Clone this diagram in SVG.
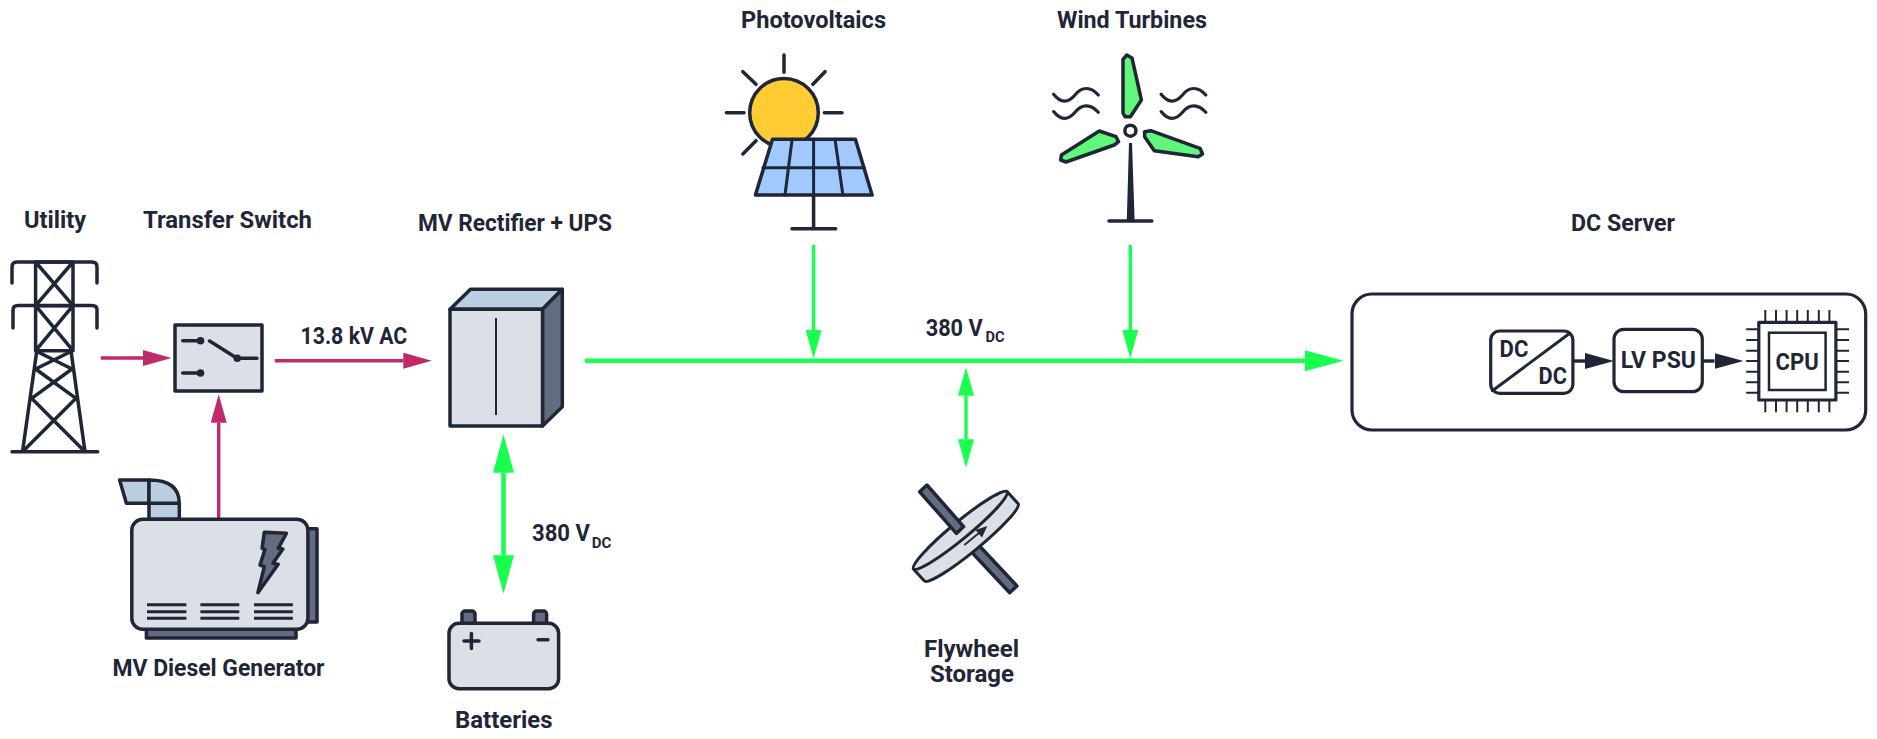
<svg xmlns="http://www.w3.org/2000/svg" width="1877" height="739" viewBox="0 0 1877 739">
<style>
text{font-family:"Roboto","Liberation Sans",sans-serif;font-weight:700;font-size:24px;fill:#1f2637}
.sub{font-size:15px}
.in{font-size:23px}
.s{fill:none;stroke:#1f2637;stroke-width:3.5;stroke-linecap:round;stroke-linejoin:round}
.t{fill:none;stroke:#1f2637;stroke-width:3;stroke-linecap:butt}
.g{fill:#dcdfe6;stroke:#1f2637;stroke-width:3.5;stroke-linejoin:round}
.d{fill:#646c80;stroke:#1f2637;stroke-width:3.5;stroke-linejoin:round}
.b{fill:#bccfe0;stroke:#1f2637;stroke-width:3.5;stroke-linejoin:round}
.blade{fill:#5ff87a;stroke:#1f2637;stroke-width:3.5;stroke-linejoin:round}
.dot{fill:#1f2637}
.pink{stroke:#bf2b6a;stroke-width:3.4;fill:none}
.green{stroke:#19ff50;stroke-width:3.4;fill:none}
.dark{stroke:#1f2637;stroke-width:3.4;fill:none}
</style>
<defs>
<marker id="hp" markerUnits="userSpaceOnUse" markerWidth="28.5" markerHeight="16" refX="0" refY="8" orient="auto"><polygon points="0,0 28.5,8 0,16" fill="#bf2b6a"/></marker>
<marker id="hg" markerUnits="userSpaceOnUse" markerWidth="28.5" markerHeight="16" refX="0" refY="8" orient="auto-start-reverse"><polygon points="0,0 28.5,8 0,16" fill="#19ff50"/></marker>
<marker id="hl" markerUnits="userSpaceOnUse" markerWidth="38.5" markerHeight="21" refX="0" refY="10.5" orient="auto-start-reverse"><polygon points="0,0 38.5,10.5 0,21" fill="#19ff50"/></marker>
<marker id="hd" markerUnits="userSpaceOnUse" markerWidth="29" markerHeight="16" refX="0" refY="8" orient="auto"><polygon points="0,0 29,8 0,16" fill="#1f2637"/></marker>
</defs>

<g id="connectors">
<line class="pink" x1="100.8" y1="358" x2="143" y2="358" marker-end="url(#hp)"/>
<line class="pink" x1="274.8" y1="360.7" x2="403.3" y2="360.7" marker-end="url(#hp)"/>
<line class="pink" x1="218.7" y1="518" x2="218.7" y2="422.7" marker-end="url(#hp)"/>
<line class="green" style="stroke-width:4.4" x1="585" y1="360.7" x2="1305" y2="360.7" marker-end="url(#hl)"/>
<line class="green" x1="813.6" y1="245" x2="813.6" y2="330" marker-end="url(#hg)"/>
<line class="green" x1="1130.3" y1="245" x2="1130.3" y2="330" marker-end="url(#hg)"/>
<line class="green" style="stroke-width:4.6" x1="503.5" y1="472.7" x2="503.5" y2="555.3" marker-start="url(#hl)" marker-end="url(#hl)"/>
<line class="green" x1="966" y1="395.7" x2="966" y2="439.3" marker-start="url(#hg)" marker-end="url(#hg)"/>
<line class="dark" x1="1572.9" y1="361" x2="1585" y2="361" marker-end="url(#hd)"/>
<line class="dark" x1="1702.3" y1="361" x2="1714.5" y2="361" marker-end="url(#hd)"/>
</g>

<g id="utility">
<text x="24" y="228" textLength="62" lengthAdjust="spacingAndGlyphs">Utility</text>
<path class="s" d="M12 283V267Q12 262 17 262H92Q97 262 97 267V283M13 328V310Q13 305.500 18 305.500H92Q97 305.500 97 310V328"/>
<path class="s" d="M35.600 262H73V350.700H35.600ZM35.600 305.700H73M35.600 262 73 305.700M73 262 35.600 305.700M35.600 305.700 73 350.700M73 305.700 35.600 350.700"/>
<path class="s" d="M36.800 350.700 22.500 451.700M71 350.700 85 451.700M12 451.700H97.700M38 352 72 369M70 352 35.600 369M35.600 369 76 398.300M72 369 31.600 398.300M31.600 398.300 85 451.700M76 398.300 22.500 451.700"/>
</g>

<g id="transfer-switch">
<text x="143" y="227.700" textLength="169" lengthAdjust="spacingAndGlyphs">Transfer Switch</text>
<rect class="g" x="175" y="325" width="87" height="66"/>
<path class="s" d="M182.700 340.700H200.500M182.700 373H200.500M209.600 341 237 358.300H257"/>
<circle class="dot" cx="200.500" cy="340.700" r="3.800"/>
<circle class="dot" cx="200.500" cy="373" r="3.800"/>
<circle class="dot" cx="237.300" cy="358.300" r="3.800"/>
</g>

<g id="label-13-8">
<text x="300.500" y="344.300" textLength="106.800" lengthAdjust="spacingAndGlyphs">13.8 kV AC</text>
</g>

<g id="rectifier-ups">
<text x="418" y="230.700" textLength="194" lengthAdjust="spacingAndGlyphs">MV Rectifier + UPS</text>
<polygon class="b" points="450,309.300 470.500,289.300 562.300,289.300 542.500,309.300"/>
<polygon class="d" points="542.500,309.300 562.300,289.300 562.300,406.700 542.500,426"/>
<rect class="g" x="450" y="309.300" width="92.500" height="116.700"/>
<line x1="496" y1="318" x2="496" y2="415" stroke="#1f2637" stroke-width="2"/>
</g>

<g id="diesel-generator">
<path class="b" d="M119.600 480H149V503.300H126.400Z"/>
<path class="b" d="M149 480Q179.300 480 179.300 503.300H149ZM149 503.300H179.300V519.300H149Z"/>
<rect class="d" x="300" y="528.700" width="17" height="93.300"/>
<rect class="d" x="146.400" y="622" width="149.600" height="16"/>
<rect class="g" x="131.800" y="519.300" width="176.100" height="110" rx="11"/>
<polygon class="d" points="264.300,532.300 286.400,533.300 278.200,548.300 282.900,549 272.900,563.300 278.200,564.300 257.900,592.700 264.300,566.700 260,565 265,549.300 262.100,548.300"/>
<path class="t" d="M147 604.700H186.400M147 611.700H186.400M147 618.300H186.400M200.400 604.700H239.300M200.400 611.700H239.300M200.400 618.300H239.300M254 604.700H292.900M254 611.700H292.900M254 618.300H292.900"/>
<text x="112.500" y="675.700" textLength="212" lengthAdjust="spacingAndGlyphs">MV Diesel Generator</text>
</g>

<g id="batteries">
<rect class="d" x="462" y="611" width="13" height="16" rx="3"/>
<rect class="d" x="533.600" y="611" width="13" height="16" rx="3"/>
<rect class="g" x="449" y="623.300" width="109.600" height="65.400" rx="10"/>
<path class="s" d="M464 641H479M471.400 633.500V648.500M538 639.700H548"/>
<text x="455" y="728.300" textLength="97.500" lengthAdjust="spacingAndGlyphs">Batteries</text>
</g>

<g id="label-380-battery">
<text><tspan x="532" y="540.700" textLength="58" lengthAdjust="spacingAndGlyphs">380 V</tspan><tspan class="sub" x="591.800" y="547.700" textLength="19.600" lengthAdjust="spacingAndGlyphs">DC</tspan></text>
</g>

<g id="photovoltaics">
<text x="741" y="28.300" textLength="145" lengthAdjust="spacingAndGlyphs">Photovoltaics</text>
<circle cx="784" cy="112.700" r="34.300" fill="#ffcc33" stroke="#1f2637" stroke-width="3.500"/>
<path class="s" d="M784 55V72.300M824.300 112.700H842M726.400 112.700H744M742.900 71.700 756 84.300M825 71.700 812.900 84.300M756 140.700 742.900 154"/>
<polygon points="772.500,139.300 855.400,139.300 872.100,195 755.400,195" fill="#a1c8ff" stroke="#1f2637" stroke-width="3.500" stroke-linejoin="round"/>
<path class="s" style="stroke-width:3" d="M762.900 167.700H864.300M813.600 139.300V195M792.100 139.300 785 195M835 139.300 842.900 195"/>
<path class="s" d="M813.600 195V228.700M792 228.700H835.700"/>
</g>

<g id="wind-turbines">
<text x="1057" y="28.300" textLength="150" lengthAdjust="spacingAndGlyphs">Wind Turbines</text>
<circle cx="1130.400" cy="130.700" r="5.500" fill="#fff" stroke="#1f2637" stroke-width="3.500"/>
<polygon class="dot" points="1129,143 1132,143 1134.600,220 1126.800,220"/>
<path class="s" d="M1109 221H1151.800"/>
<polygon class="blade" points="1123,59.300 1126.800,55 1132,58 1141.400,100 1130.400,116.700 1125,116.700 1123,113"/>
<polygon class="blade" points="1144.600,131.700 1150.700,130.700 1200,148.300 1202.500,154 1198.200,156.700 1154.300,150.700 1144.600,136.700"/>
<polygon class="blade" points="1099.300,131 1116,136.700 1118.600,141.700 1114.300,145 1066,162 1060.700,160 1061.400,155"/>
<path class="s" style="stroke-width:3.200" d="M1053.600 94.300C1060.700 103.300 1067.900 103.300 1075 95C1082 86 1091 86.700 1098.300 95M1053.600 111.600C1060.700 120.600 1067.900 120.600 1075 112.300C1082 103.300 1091 104 1098.300 112.300M1161.100 94.300C1168.200 103.300 1175.400 103.300 1182.500 95C1189.500 86 1198.500 86.700 1205.800 95M1161.100 111.600C1168.200 120.600 1175.400 120.600 1182.500 112.300C1189.500 103.300 1198.500 104 1205.800 112.300"/>
</g>

<g id="label-380-bus">
<text><tspan x="925.700" y="336" textLength="57" lengthAdjust="spacingAndGlyphs">380 V</tspan><tspan class="sub" x="985.500" y="342.300" textLength="19" lengthAdjust="spacingAndGlyphs">DC</tspan></text>
</g>

<g id="flywheel">
<polygon class="d" points="976.900,543.300 1016.900,585.900 1009.700,592.700 969.700,550.100"/>
<path class="g" style="stroke-width:3" d="M913.400 568.900 924.400 580.900A60.700 8.500 -39.500 0 0 1018.200 503.700L1007.200 491.700Z"/>
<ellipse cx="960.300" cy="530.300" rx="60.700" ry="8.500" transform="rotate(-39.500 960.300 530.300)" fill="#dcdfe6" stroke="#1f2637" stroke-width="3"/>
<path d="M964.300 545 979 533" stroke="#1f2637" stroke-width="1.800" fill="none"/>
<polygon class="dot" points="987.300,526 982,537.500 975.500,530"/>
<polygon class="d" points="926.900,485 963.600,526.600 956.400,533.400 919.700,491.800"/>
<text x="924" y="657" textLength="95" lengthAdjust="spacingAndGlyphs">Flywheel</text>
<text x="930" y="682" textLength="84" lengthAdjust="spacingAndGlyphs">Storage</text>
</g>

<g id="dc-server">
<text x="1571" y="231" textLength="104" lengthAdjust="spacingAndGlyphs">DC Server</text>
<rect x="1352" y="294" width="513.700" height="136" rx="20" fill="none" stroke="#1f2637" stroke-width="3.200"/>
<g id="dc-dc">
<rect x="1490.700" y="331" width="82.200" height="62.300" rx="9" fill="#fff" stroke="#1f2637" stroke-width="3.200"/>
<path class="s" style="stroke-width:3" d="M1492.400 390.700 1568.800 334"/>
<text class="in" x="1499.600" y="357.300" textLength="28.800" lengthAdjust="spacingAndGlyphs">DC</text>
<text class="in" x="1538.600" y="384" textLength="28.400" lengthAdjust="spacingAndGlyphs">DC</text>
</g>
<g id="lv-psu">
<rect x="1614" y="329.300" width="88.300" height="62.400" rx="10" fill="#fff" stroke="#1f2637" stroke-width="3.200"/>
<text class="in" x="1620.800" y="368" textLength="75.200" lengthAdjust="spacingAndGlyphs">LV PSU</text>
</g>
<g id="cpu">
<rect x="1758.800" y="322.300" width="77.100" height="77.700" fill="#fff" stroke="#1f2637" stroke-width="3.200" stroke-linejoin="round"/>
<rect x="1769" y="332.700" width="56.600" height="57.300" fill="#fff" stroke="#1f2637" stroke-width="2.500"/>
<path class="t" style="stroke-width:2" d="M1765.300 310V322M1776 310V322M1786.600 310V322M1797.200 310V322M1807.800 310V322M1818.800 310V322M1829.400 310V322M1765.300 400V412.300M1776 400V412.300M1786.600 400V412.300M1797.200 400V412.300M1807.800 400V412.300M1818.800 400V412.300M1829.400 400V412.300M1746.200 329.300H1758.800M1746.200 340H1758.800M1746.200 350.700H1758.800M1746.200 361H1758.800M1746.200 371.700H1758.800M1746.200 382.300H1758.800M1746.200 392.700H1758.800M1836 329.300H1849M1836 340H1849M1836 350.700H1849M1836 361H1849M1836 371.700H1849M1836 382.300H1849M1836 392.700H1849"/>
<text class="in" x="1775.600" y="370" textLength="43.200" lengthAdjust="spacingAndGlyphs">CPU</text>
</g>
</g>
</svg>
